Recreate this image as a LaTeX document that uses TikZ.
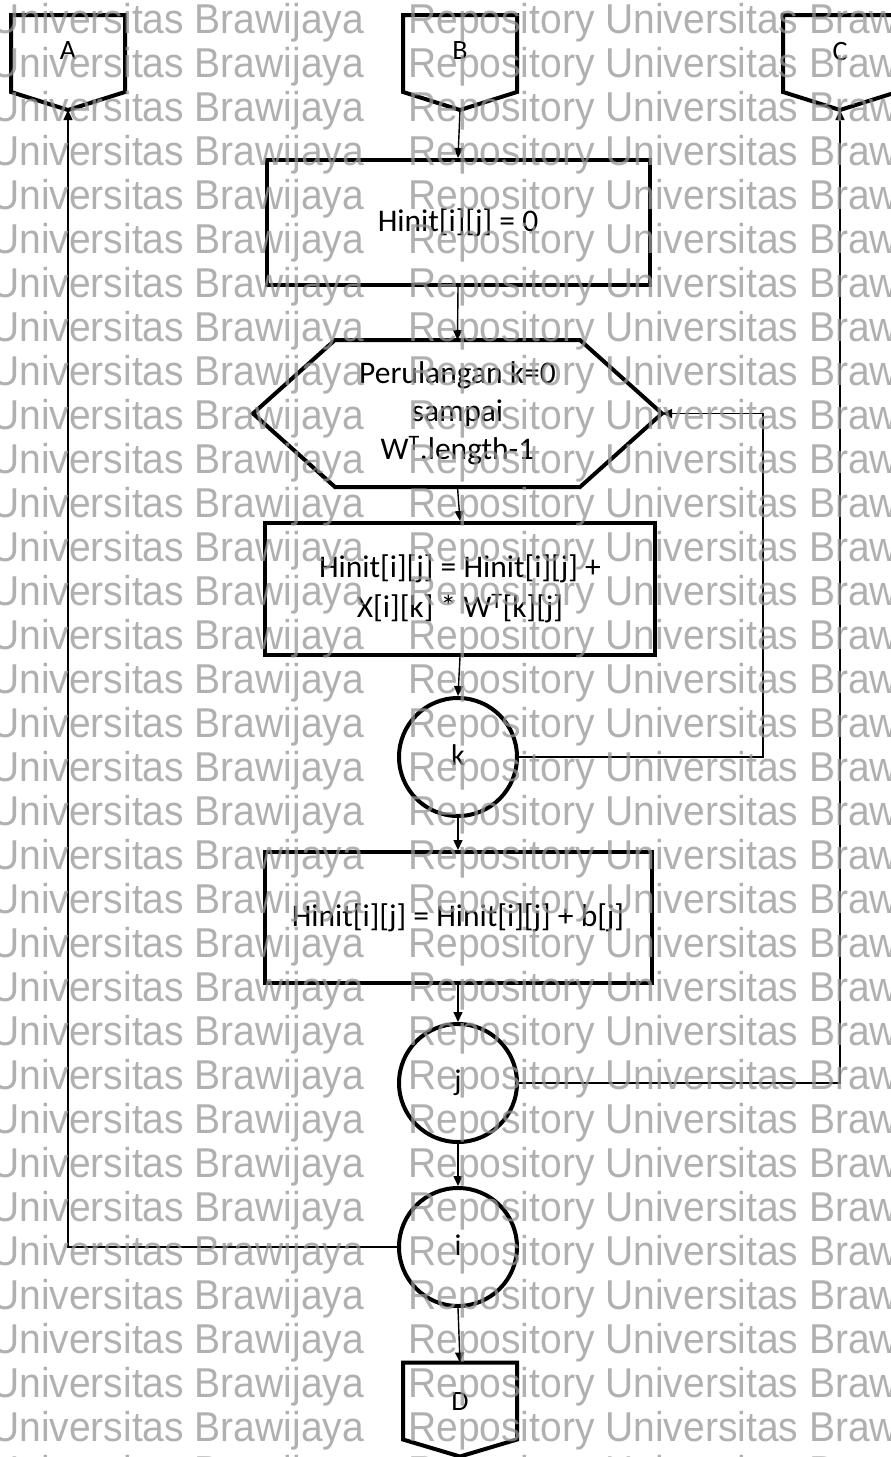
\documentclass[tikz,border=0pt]{standalone}
\usepackage{fontspec}
\setmainfont{Carlito}
\newfontfamily\wmfont{Liberation Sans}
\usetikzlibrary{arrows.meta,calc}
\definecolor{wmgray}{RGB}{150,150,150}
\newcommand\wmtext[1]{\scalebox{1}[1.07]{#1}}
\begin{document}
\begin{tikzpicture}[x=1pt,y=-1pt,
  flowbox/.style={draw, line width=4pt, rectangle, align=center,
    font=\fontsize{31.5}{40}\selectfont, inner sep=0pt},
  loopcircle/.style={draw, line width=4pt, circle, minimum size=118pt,
    inner sep=0pt, font=\fontsize{30}{32}\selectfont},
  offpage/.style={rectangle, minimum width=114pt, minimum height=77pt,
    inner sep=0pt, outer sep=0pt, font=\fontsize{28}{30}\selectfont},
  heavy/.style={line width=4pt, line join=miter},
  conn/.style={line width=1.4pt, -{Triangle[length=10pt,width=9pt]}},
  wmark/.style={anchor=base west, inner sep=0pt, text=wmgray, opacity=0.75,
    font=\wmfont\fontsize{39}{44}\selectfont}
]
\useasboundingbox (0,0) rectangle (891,1457);
\clip (0,0) rectangle (891,1457);

% off-page connectors
\node[offpage] (A) at (68,53.5) {\raisebox{5pt}{A}};
\node[offpage] (B) at (460,53.5) {\raisebox{5pt}{B}};
\node[offpage] (C) at (840,53.5) {\raisebox{4pt}{C}};
\node[offpage] (D) at (460,1401) {D};
\coordinate (Atip) at ($(A.south)+(0,18)$);
\coordinate (Btip) at ($(B.south)+(0,18)$);
\coordinate (Ctip) at ($(C.south)+(0,18)$);
\coordinate (Dtip) at ($(D.south)+(0,17)$);
\foreach \p in {A,B,C,D}
  \draw[heavy] (\p.north west) -- (\p.north east) -- (\p.south east)
    -- (\p tip) -- (\p.south west) -- cycle;

% process steps
\node[flowbox, minimum width=383pt, minimum height=125pt] (b1) at (458,222.5)
  {Hinit[i][j] = 0};

\node[rectangle, minimum width=409pt, minimum height=147pt, inner sep=0pt,
  outer sep=0pt, align=center, font=\fontsize{31.5}{38}\selectfont]
  (hex) at (457.5,413.5)
  {Perulangan k=0\\sampai\\W\textsuperscript{T}.length-1};
\draw[heavy] (hex.west) -- ($(hex.north west)+(82,0)$)
  -- ($(hex.north east)+(-82,0)$) -- (hex.east)
  -- ($(hex.south east)+(-82,0)$) -- ($(hex.south west)+(82,0)$) -- cycle;

\node[flowbox, minimum width=390pt, minimum height=132pt] (b2) at (460,589)
  {Hinit[i][j] = Hinit[i][j] +\\X[i][k] * W\textsuperscript{T}[k][j]};

\node[loopcircle] (k) at (458,757) {\raisebox{3pt}{k}};

\node[flowbox, minimum width=387pt, minimum height=131pt] (b3) at (458,917.5)
  {Hinit[i][j] = Hinit[i][j] + b[j]};

\node[loopcircle] (j) at (458,1083) {j};
\node[loopcircle] (i) at (458,1247) {\raisebox{3pt}{i}};

% connectors
\coordinate (loopk) at (763,0);
\draw[conn] (Btip) -- (b1.north);
\draw[conn] (b1.south) -- (hex.north);
\draw[conn] (hex.south) -- (b2.north);
\draw[conn] (b2.south) -- (k.north);
\draw[conn] (k.east) -- (k.east -| loopk) -- (hex.east -| loopk) -- (hex.east);
\draw[conn] (k.south) -- (b3.north);
\draw[conn] (b3.south) -- (j.north);
\draw[conn] (j.east) -| (Ctip);
\draw[conn] (j.south) -- (i.north);
\draw[conn] (i.west) -| (Atip);
\draw[conn] (i.south) -- (D.north);

% repository watermark
\foreach \n in {0,...,33} {
  \node[wmark] (wl\n) at (-9,33+44*\n) {\wmtext{Universitas Brawijaya}};
  \node[wmark] (wr\n) at (408,33+44*\n) {\wmtext{Repository Universitas Brawijaya}};
}
\end{tikzpicture}
\end{document}
